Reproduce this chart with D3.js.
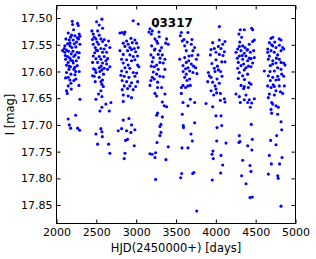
<!DOCTYPE html>
<html><head><meta charset="utf-8">
<script src="https://cdn.jsdelivr.net/npm/d3@7"></script>
<style>body{margin:0;background:#fff}svg{display:block}</style>
</head><body>
<script>
const chartTitle = "03317";
const xLabel = "HJD(2450000+) [days]";
const yLabel = "I [mag]";
const xTicks = [2000, 2500, 3000, 3500, 4000, 4500, 5000];
const yTicks = [17.50, 17.55, 17.60, 17.65, 17.70, 17.75, 17.80, 17.85];

const season1 = [[2198,17.506],[2264,17.510],[2273,17.514],[2202,17.512],[2214,17.522],[2285,17.530],[2147,17.528],[2189,17.532],[2231,17.533],[2294,17.534],[2176,17.536],[2260,17.537],[2118,17.539],[2160,17.541],[2210,17.541],[2277,17.539],[2168,17.547],[2223,17.548],[2294,17.549],[2105,17.552],[2168,17.552],[2193,17.555],[2243,17.554],[2126,17.560],[2076,17.561],[2105,17.564],[2151,17.562],[2206,17.562],[2260,17.564],[2285,17.565],[2185,17.567],[2235,17.569],[2139,17.572],[2168,17.575],[2218,17.572],[2277,17.574],[2114,17.577],[2181,17.579],[2248,17.580],[2147,17.583],[2210,17.584],[2126,17.588],[2176,17.591],[2260,17.589],[2156,17.596],[2218,17.596],[2285,17.600],[2126,17.602],[2181,17.605],[2231,17.606],[2147,17.611],[2114,17.612],[2243,17.614],[2168,17.616],[2218,17.617],[2181,17.622],[2147,17.627],[2281,17.626],[2126,17.636],[2185,17.633],[2294,17.652],[2135,17.641],[2097,17.557],[2139,17.548],[2252,17.545],[2202,17.580],[2160,17.590],[2230,17.592],[2110,17.570],[2240,17.600],
[2147,17.689],[2240,17.682],[2160,17.700],[2177,17.706],[2265,17.706],[2290,17.710]];

const season2 = [[2570,17.502],[2503,17.507],[2536,17.513],[2578,17.519],[2444,17.524],[2516,17.524],[2461,17.530],[2536,17.532],[2474,17.536],[2557,17.539],[2495,17.539],[2654,17.543],[2578,17.544],[2461,17.549],[2528,17.549],[2620,17.551],[2670,17.555],[2486,17.555],[2557,17.557],[2599,17.558],[2516,17.561],[2578,17.564],[2629,17.564],[2461,17.571],[2536,17.572],[2599,17.572],[2495,17.576],[2557,17.577],[2641,17.576],[2453,17.583],[2516,17.583],[2578,17.584],[2629,17.586],[2670,17.591],[2536,17.593],[2599,17.594],[2486,17.597],[2570,17.597],[2641,17.596],[2495,17.602],[2453,17.608],[2474,17.609],[2536,17.611],[2578,17.616],[2486,17.619],[2557,17.619],[2570,17.624],[2587,17.628],[2557,17.636],[2528,17.642],[2570,17.647],[2495,17.652],[2683,17.658],[2620,17.661],[2570,17.667],[2545,17.674],[2662,17.674],[2450,17.540],[2510,17.545],[2600,17.540],[2480,17.565],[2560,17.590],[2620,17.580],[2500,17.560],[2545,17.600],[2590,17.605],[2465,17.595],
[2557,17.707],[2495,17.717],[2570,17.713],[2575,17.722],[2516,17.736],[2654,17.736],[2670,17.753]];

const season3 = [[2963,17.505],[3026,17.511],[2796,17.528],[2825,17.527],[2859,17.526],[2850,17.530],[2934,17.538],[2880,17.543],[2984,17.541],[2838,17.547],[2900,17.549],[2951,17.546],[3005,17.547],[2859,17.553],[2921,17.555],[2976,17.557],[3026,17.555],[2796,17.561],[2892,17.561],[2942,17.559],[2993,17.563],[2838,17.568],[2921,17.569],[2963,17.572],[3018,17.571],[2817,17.577],[2880,17.578],[2942,17.580],[2984,17.578],[2838,17.584],[2900,17.588],[3018,17.588],[3034,17.591],[2859,17.593],[2921,17.594],[2817,17.599],[2880,17.601],[2963,17.602],[3005,17.603],[2808,17.607],[2850,17.609],[2909,17.611],[2984,17.609],[2825,17.617],[2880,17.619],[2942,17.621],[3018,17.619],[2850,17.627],[2921,17.627],[2993,17.628],[2825,17.634],[2892,17.632],[2963,17.634],[2838,17.644],[2900,17.646],[2942,17.649],[2838,17.656],
[2909,17.688],[2838,17.691],[2942,17.700],[2817,17.707],[2775,17.711],[2880,17.711],[2934,17.714],[2984,17.709],[2892,17.727],[2867,17.729],[2976,17.739],[2859,17.753],[2850,17.763]];

const season4 = [[3160,17.526],[3202,17.524],[3286,17.526],[3236,17.539],[3257,17.543],[3382,17.539],[3370,17.547],[3269,17.547],[3403,17.549],[3194,17.552],[3236,17.558],[3298,17.561],[3319,17.555],[3185,17.569],[3277,17.568],[3328,17.569],[3215,17.574],[3361,17.577],[3202,17.582],[3298,17.583],[3340,17.584],[3257,17.588],[3227,17.591],[3277,17.596],[3361,17.596],[3215,17.601],[3257,17.605],[3298,17.609],[3202,17.611],[3185,17.617],[3227,17.614],[3173,17.626],[3269,17.630],[3319,17.630],[3236,17.641],[3257,17.646],[3361,17.642],[3328,17.657],[3353,17.664],[3382,17.666],[3269,17.678],[3257,17.682],[3328,17.685],[3173,17.520],[3190,17.530],[3250,17.515],[3290,17.535],[3230,17.560],[3300,17.575],[3190,17.590],[3340,17.610],[3270,17.620],
[3311,17.699],[3298,17.703],[3311,17.714],[3298,17.720],[3261,17.733],[3403,17.741],[3173,17.754],[3202,17.755],[3244,17.752],[3236,17.761],[3374,17.765],[3244,17.802]];

const season5 = [[3567,17.527],[3650,17.527],[3554,17.533],[3579,17.543],[3609,17.552],[3692,17.549],[3734,17.555],[3629,17.561],[3713,17.561],[3776,17.569],[3546,17.577],[3609,17.574],[3663,17.571],[3755,17.577],[3629,17.583],[3692,17.586],[3588,17.589],[3650,17.593],[3747,17.593],[3671,17.599],[3713,17.602],[3629,17.605],[3763,17.604],[3609,17.611],[3671,17.614],[3638,17.617],[3588,17.626],[3567,17.630],[3650,17.627],[3680,17.626],[3567,17.641],[3588,17.658],[3650,17.664],[3734,17.658],[3680,17.652],[3579,17.680],[3600,17.540],[3700,17.570],[3620,17.595],[3660,17.580],[3720,17.590],[3640,17.545],[3590,17.600],[3620,17.630],[3700,17.540],
[3591,17.701],[3594,17.705],[3734,17.696],[3688,17.717],[3705,17.730],[3575,17.743],[3650,17.743],[3571,17.791],[3558,17.799],[3709,17.791],[3725,17.789],[3760,17.861]];

const season6 = [[4044,17.516],[3961,17.546],[4044,17.541],[4115,17.544],[4086,17.549],[3981,17.557],[3940,17.559],[4032,17.553],[4065,17.557],[3931,17.569],[4002,17.564],[4044,17.568],[4107,17.563],[4002,17.578],[4074,17.582],[4115,17.582],[3981,17.594],[4032,17.597],[3906,17.602],[3919,17.608],[4078,17.609],[3898,17.619],[3940,17.611],[4015,17.614],[4044,17.622],[3990,17.627],[3940,17.636],[4002,17.633],[3973,17.644],[4057,17.641],[4107,17.651],[4115,17.657],[3877,17.660],[3961,17.666],[4057,17.654],[4002,17.683],[4065,17.683],[3990,17.600],[4020,17.590],[3960,17.620],[4010,17.640],[3950,17.585],[4090,17.570],[4060,17.600],
[4074,17.701],[4015,17.705],[4011,17.730],[4128,17.734],[3964,17.749],[3952,17.755],[4065,17.757],[3968,17.763],[4086,17.775],[4061,17.790],[3955,17.803]];

const season7 = [[4307,17.522],[4357,17.522],[4450,17.519],[4462,17.522],[4324,17.536],[4462,17.544],[4483,17.541],[4420,17.549],[4295,17.553],[4337,17.552],[4366,17.555],[4274,17.558],[4316,17.561],[4399,17.559],[4475,17.561],[4253,17.564],[4357,17.566],[4433,17.564],[4295,17.571],[4378,17.571],[4441,17.576],[4483,17.574],[4337,17.577],[4399,17.580],[4282,17.583],[4349,17.586],[4462,17.584],[4316,17.589],[4378,17.593],[4441,17.591],[4274,17.594],[4357,17.597],[4295,17.602],[4399,17.605],[4337,17.608],[4282,17.613],[4420,17.621],[4441,17.624],[4316,17.626],[4357,17.628],[4408,17.630],[4349,17.632],[4253,17.642],[4295,17.647],[4378,17.644],[4483,17.651],[4357,17.653],[4420,17.653],[4307,17.658],[4399,17.658],[4450,17.659],[4433,17.667],[4300,17.545],[4330,17.570],[4390,17.560],[4270,17.575],[4410,17.590],[4360,17.615],[4420,17.575],[4290,17.530],
[4445,17.699],[4295,17.720],[4303,17.731],[4290,17.733],[4400,17.739],[4458,17.727],[4452,17.747],[4337,17.766],[4429,17.776],[4441,17.787],[4324,17.795],[4379,17.810],[4429,17.836],[4458,17.835]];

const season8 = [[4693,17.538],[4714,17.536],[4797,17.539],[4818,17.541],[4672,17.546],[4651,17.558],[4714,17.552],[4755,17.555],[4797,17.551],[4839,17.555],[4651,17.564],[4693,17.561],[4734,17.564],[4818,17.561],[4852,17.558],[4672,17.571],[4776,17.569],[4659,17.577],[4714,17.580],[4797,17.577],[4818,17.583],[4714,17.586],[4755,17.584],[4852,17.584],[4868,17.588],[4684,17.589],[4776,17.593],[4609,17.599],[4734,17.599],[4818,17.596],[4659,17.608],[4714,17.611],[4776,17.609],[4827,17.605],[4684,17.617],[4755,17.616],[4852,17.609],[4651,17.627],[4693,17.630],[4734,17.628],[4797,17.627],[4860,17.627],[4672,17.642],[4755,17.636],[4810,17.638],[4839,17.641],[4659,17.649],[4734,17.644],[4701,17.658],[4714,17.661],[4755,17.664],[4785,17.667],[4693,17.671],[4701,17.678],[4776,17.680],[4700,17.550],[4760,17.575],[4680,17.600],[4790,17.615],[4720,17.625],[4740,17.545],
[4818,17.694],[4827,17.709],[4764,17.720],[4688,17.729],[4755,17.737],[4672,17.757],[4831,17.761],[4697,17.773],[4800,17.773],[4659,17.792],[4777,17.795],[4783,17.800],[4818,17.852]];

const seasons = [season1, season2, season3, season4, season5, season6, season7, season8];

const W = 316, H = 259;
const L = 56.5, R = 295.5, T = 5.5, B = 223.5;
const x = d3.scaleLinear().domain([2000, 5000]).range([L, R]);
const y = d3.scaleLinear().domain([17.4765, 17.8845]).range([T, B]);

const svg = d3.select("body").append("svg").attr("width", W).attr("height", H)
  .style("font-family", "'DejaVu Sans', sans-serif");

const pts = seasons.flat();
svg.append("g").selectAll("circle").data(pts).join("circle")
  .attr("cx", d => x(d[0])).attr("cy", d => y(d[1])).attr("r", 1.55)
  .attr("fill", "#0000ff");

function styleAxis(g, showLabels) {
  g.select(".domain").remove();
  g.selectAll(".tick line").attr("stroke", "#000").attr("stroke-width", 1);
  g.selectAll(".tick text").attr("fill", "#000").style("font-size", "11px")
    .style("font-family", "'DejaVu Sans', sans-serif");
  if (!showLabels) g.selectAll(".tick text").remove();
}

svg.append("g").attr("transform", `translate(0,${B})`)
  .call(d3.axisBottom(x).tickValues(xTicks).tickFormat(d3.format("d")).tickSizeInner(-4).tickSizeOuter(0).tickPadding(5))
  .call(g => styleAxis(g, true));
svg.append("g").attr("transform", `translate(0,${T})`)
  .call(d3.axisTop(x).tickValues(xTicks).tickSizeInner(-4).tickSizeOuter(0))
  .call(g => styleAxis(g, false));
svg.append("g").attr("transform", `translate(${L},0)`)
  .call(d3.axisLeft(y).tickValues(yTicks).tickFormat(d3.format(".2f")).tickSizeInner(-4).tickSizeOuter(0).tickPadding(4))
  .call(g => styleAxis(g, true));
svg.append("g").attr("transform", `translate(${R},0)`)
  .call(d3.axisRight(y).tickValues(yTicks).tickSizeInner(-4).tickSizeOuter(0))
  .call(g => styleAxis(g, false));

svg.append("rect").attr("x", L).attr("y", T).attr("width", R - L).attr("height", B - T)
  .attr("fill", "none").attr("stroke", "#000").attr("stroke-width", 1);

svg.append("text").attr("x", (L + R) / 2).attr("y", 252).attr("text-anchor", "middle")
  .style("font-size", "11.5px").text(xLabel);
svg.append("text").attr("transform", `translate(14,${(T + B) / 2}) rotate(-90)`)
  .attr("text-anchor", "middle").style("font-size", "11.5px").text(yLabel);
svg.append("text").attr("x", 172).attr("y", 26.7).attr("text-anchor", "middle")
  .style("font-size", "12px").style("font-weight", "bold").text(chartTitle);
</script>
</body></html>
